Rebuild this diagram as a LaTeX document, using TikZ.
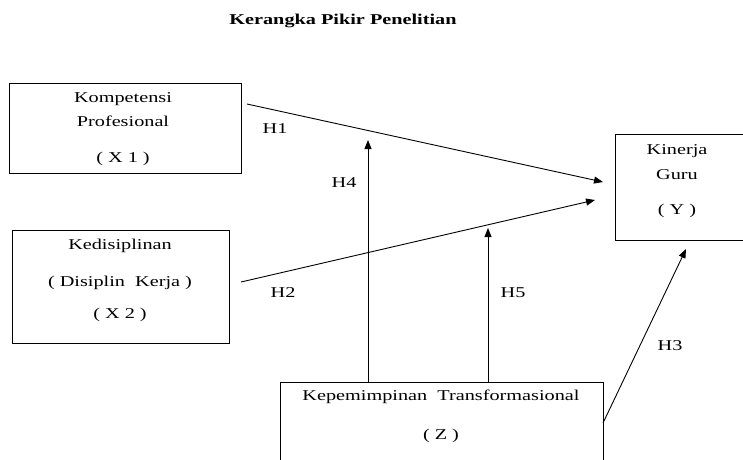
\documentclass[tikz,border=0pt]{standalone}
\usepackage{fontspec}
\setmainfont{Liberation Serif}[FakeStretch=1.35]
\usetikzlibrary{arrows.meta}
\begin{document}
\begin{tikzpicture}[x=1pt,y=-1pt,
  box/.style={draw, line width=0.8pt, inner sep=0pt, anchor=north west},
  conn/.style={line width=0.9pt, -{Triangle[length=9pt,width=7pt]}},
  txt/.style={font=\fontsize{15}{18}\selectfont, inner sep=0pt}]
\useasboundingbox (0,0) rectangle (743,459);
\clip (0,0) rectangle (743,459);

\node[txt, font=\fontsize{15}{18}\selectfont\bfseries] (title) at (343,21) {Kerangka Pikir Penelitian};

% boxes
\node[box, minimum width=232pt, minimum height=90pt] (x1) at (9,83) {};
\node[box, minimum width=217pt, minimum height=113pt] (x2) at (12,230) {};
\node[box, minimum width=131pt, minimum height=106pt] (y) at (615,134) {};
\node[box, minimum width=323pt, minimum height=90pt] (z) at (280,382) {};

% texts
\node[txt] (x1a) at (123,99) {Kompetensi};
\node[txt] (x1b) at (123,121) {Profesional};
\node[txt] (x1c) at (123,159) {( X 1 )};
\node[txt] (x2a) at (120,246) {Kedisiplinan};
\node[txt] (x2b) at (120,283) {( Disiplin\ \ Kerja )};
\node[txt] (x2c) at (120,315) {( X 2 )};
\node[txt] (ya) at (677,151) {Kinerja};
\node[txt] (yb) at (677,175) {Guru};
\node[txt] (yc) at (677,211) {( Y )};
\node[txt] (za) at (441,397) {Kepemimpinan\ \ Transformasional};
\node[txt] (zb) at (441,436) {( Z )};

% connector endpoints
\coordinate (h1s) at (247,104);
\coordinate (h1e) at (603,182);
\coordinate (h2s) at (241,282);
\coordinate (h2e) at (595,200);
\coordinate (h4s) at (368,382);
\coordinate (h4e) at (368,140);
\coordinate (h5s) at (488,382);
\coordinate (h5e) at (488,228);
\coordinate (h3s) at (603,423);
\coordinate (h3e) at (686,249);

\draw[conn] (h1s) -- (h1e);
\draw[conn] (h2s) -- (h2e);
\draw[conn] (h4s) -- (h4e);
\draw[conn] (h5s) -- (h5e);
\draw[conn] (h3s) -- (h3e);

\node[txt] (l1) at (275,129) {H1};
\node[txt] (l2) at (283,293) {H2};
\node[txt] (l4) at (344,183) {H4};
\node[txt] (l5) at (513,293) {H5};
\node[txt] (l3) at (670,346) {H3};
\end{tikzpicture}
\end{document}
